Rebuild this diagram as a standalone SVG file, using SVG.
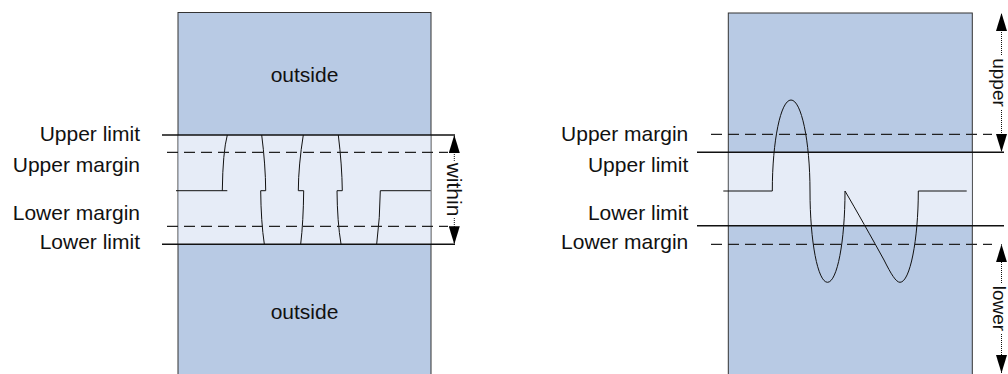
<svg xmlns="http://www.w3.org/2000/svg" width="1008" height="374" viewBox="0 0 1008 374">
<style>
text{font-family:"Liberation Sans",Arial,sans-serif;font-size:21px;fill:#111}
.lbl{text-anchor:end}
.mid{text-anchor:middle}
.rot{text-anchor:middle;dominant-baseline:central}
.edge{font-size:19px}
.zone{fill:#b8cae4;stroke:#333;stroke-width:1}
.band{fill:#e6ecf7}
.lim{stroke:#111;stroke-width:1.5;fill:none}
.mar{stroke:#222;stroke-width:1.3;stroke-dasharray:11 6;fill:none}
.wave{stroke:#111;stroke-width:1;fill:none}
.dim{stroke:#111;stroke-width:1;stroke-dasharray:1 1;fill:none;marker-end:url(#ah)}
</style>
<defs>
<marker id="ah" markerUnits="userSpaceOnUse" viewBox="0 0 18 11" markerWidth="18" markerHeight="11" refX="18" refY="5.5" orient="auto">
<path d="M0,0 L18,5.5 L0,11 z" fill="#000"/>
</marker>
</defs>

<g id="left-panel">
<rect class="zone" x="178" y="12.5" width="253" height="370"/>
<rect class="band" x="178.5" y="135" width="252" height="109"/>
<text class="mid" x="304.5" y="81.7">outside</text>
<text class="mid" x="304.5" y="318.5">outside</text>
</g>

<g id="left-labels">
<text class="lbl" x="140" y="140.7">Upper limit</text>
<text class="lbl" x="140" y="171.7">Upper margin</text>
<text class="lbl" x="140" y="220">Lower margin</text>
<text class="lbl" x="140" y="249.3">Lower limit</text>
</g>

<g id="left-wave">
<path class="wave" d="M176,190.7 H227.3 M222.3,190.7 Q222.8,152 227.3,135"/>
<path class="wave" d="M261.7,135 Q265.5,165 265.7,190.7 H260.7 Q261,222 264.3,244"/>
<path class="wave" d="M303.3,135 Q298.5,165 298.3,190.7 H303.7 Q303.3,222 300.7,244"/>
<path class="wave" d="M338.3,135 Q342,165 342.3,190.7 H337 Q337.3,222 341,244"/>
<path class="wave" d="M376.7,244 Q380,218 380.3,190.7 H430.7"/>
</g>

<g id="right-panel">
<rect class="zone" x="728.3" y="13" width="244" height="370"/>
<rect class="band" x="728.8" y="152.3" width="243" height="73.4"/>
</g>

<g id="right-labels">
<text class="lbl" x="688.3" y="140.7">Upper margin</text>
<text class="lbl" x="688.3" y="171.7">Upper limit</text>
<text class="lbl" x="688.3" y="220">Lower limit</text>
<text class="lbl" x="688.3" y="249.3">Lower margin</text>
</g>

<g id="right-wave">
<path class="wave" d="M723.3,191 H772.3 C772.3,140.8 780.7,100 791,100 C801.3,100 810,140.8 810,191 C810,241.4 817.8,282.3 827.5,282.3 C837.2,282.3 845,241.4 845,191 C855,208 873,240 884,260 C891,274 896,282.3 900,282.3 C910,282.3 918.3,240 918.3,191 H966.7"/>
</g>

<g id="connectors">
<line class="lim" x1="162" y1="135" x2="455" y2="135"/>
<line class="lim" x1="162" y1="244.3" x2="455" y2="244.3"/>
<line class="mar" x1="167" y1="152.3" x2="448" y2="152.3"/>
<line class="mar" x1="167" y1="226.3" x2="448" y2="226.3"/>
<line class="lim" x1="697" y1="152.3" x2="1004" y2="152.3"/>
<line class="lim" x1="697" y1="225.7" x2="1004" y2="225.7"/>
<line class="mar" x1="711" y1="134.3" x2="992" y2="134.3"/>
<line class="mar" x1="711" y1="244.3" x2="992" y2="244.3"/>
<line class="dim" x1="454.3" y1="161" x2="454.3" y2="135"/>
<line class="dim" x1="454.3" y1="218" x2="454.3" y2="244.3"/>
<line class="dim" x1="1001.5" y1="55" x2="1001.5" y2="13"/>
<line class="dim" x1="1001.5" y1="110" x2="1001.5" y2="152"/>
<line class="dim" x1="1001.5" y1="283" x2="1001.5" y2="244.3"/>
<line class="dim" x1="1001.5" y1="334" x2="1001.5" y2="373"/>
</g>

<g id="dimension-labels">
<text class="rot" transform="translate(454.3,189.5) rotate(90)">within</text>
<text class="rot edge" transform="translate(999.5,82.5) rotate(90)">upper</text>
<text class="rot edge" transform="translate(999.5,308.5) rotate(90)">lower</text>
</g>
</svg>
